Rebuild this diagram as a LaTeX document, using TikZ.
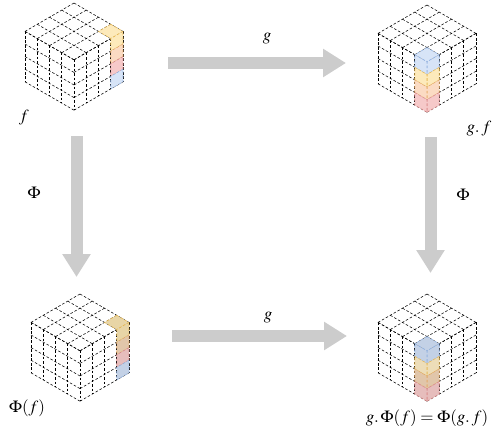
\documentclass[tikz,border=0pt]{standalone}
\usepackage{mathptmx}
\usetikzlibrary{arrows.meta}
\definecolor{cY}{HTML}{FDEABB}\definecolor{dY}{HTML}{E6B64E}
\definecolor{cP}{HTML}{FBDBC3}\definecolor{dP}{HTML}{E6A862}
\definecolor{cR}{HTML}{F6C9C9}\definecolor{dR}{HTML}{D98585}
\definecolor{cB}{HTML}{D7E4F7}\definecolor{dB}{HTML}{8FB0E0}
\definecolor{tY}{HTML}{E8D5A6}\definecolor{tP}{HTML}{E1C6AA}
\definecolor{tR}{HTML}{E6BDBC}\definecolor{tB}{HTML}{C3D1E6}
\definecolor{arrgray}{HTML}{CCCCCC}
\tikzset{
  gridline/.style={draw=black,line width=0.55pt,dash pattern=on 2.6pt off 1.9pt},
  cellstyle/.style={line width=0.55pt,dash pattern=on 2.6pt off 1.9pt},
  blockarrow/.style={draw=arrgray,line width=12pt,-{Triangle[length=23pt,width=27pt]}},
  lbl/.style={inner sep=0pt,font=\fontsize{17}{20}\selectfont}
}
\newcommand\isocube[2]{%
\begin{scope}[shift={(#1pt,-#2pt)},x={(12.25pt,-7.1pt)},y={(-12.25pt,-7.1pt)},z={(0pt,-12.6pt)}]
\foreach \m in {0,...,4}{
 \draw[gridline] (\m,0,0)--(\m,4,0); \draw[gridline] (0,\m,0)--(4,\m,0);
 \draw[gridline] (4,\m,0)--(4,\m,4); \draw[gridline] (4,0,\m)--(4,4,\m);
 \draw[gridline] (\m,4,0)--(\m,4,4); \draw[gridline] (0,4,\m)--(4,4,\m);
}
\end{scope}}
\newcommand\rightcol[6]{%
\begin{scope}[shift={(#1pt,-#2pt)},x={(12.25pt,-7.1pt)},y={(-12.25pt,-7.1pt)},z={(0pt,-12.6pt)}]
\filldraw[cellstyle,fill=#3,draw=dY] (3,0,0)--(4,0,0)--(4,1,0)--(3,1,0)--cycle;
\filldraw[cellstyle,fill=#3,draw=dY] (4,0,0)--(4,1,0)--(4,1,1)--(4,0,1)--cycle;
\filldraw[cellstyle,fill=#4,draw=dP] (4,0,1)--(4,1,1)--(4,1,2)--(4,0,2)--cycle;
\filldraw[cellstyle,fill=#5,draw=dR] (4,0,2)--(4,1,2)--(4,1,3)--(4,0,3)--cycle;
\filldraw[cellstyle,fill=#6,draw=dB] (4,0,3)--(4,1,3)--(4,1,4)--(4,0,4)--cycle;
\end{scope}}
\newcommand\frontcol[6]{%
\begin{scope}[shift={(#1pt,-#2pt)},x={(12.25pt,-7.1pt)},y={(-12.25pt,-7.1pt)},z={(0pt,-12.6pt)}]
\filldraw[cellstyle,fill=#3,draw=dB] (3,3,0)--(4,3,0)--(4,4,0)--(3,4,0)--cycle;
\foreach \k/\f/\d in {0/#3/dB,1/#4/dY,2/#5/dP,3/#6/dR}{
  \pgfmathtruncatemacro\kk{\k+1}
  \filldraw[cellstyle,fill=\f,draw=\d] (4,3,\k)--(4,4,\k)--(4,4,\kk)--(4,3,\kk)--cycle;
  \filldraw[cellstyle,fill=\f,draw=\d] (3,4,\k)--(4,4,\k)--(4,4,\kk)--(3,4,\kk)--cycle;
}
\end{scope}}
\begin{document}
\begin{tikzpicture}[x=1pt,y=-1pt]
\useasboundingbox (0,0) rectangle (493,426);
% cubes
\isocube{74}{3}\rightcol{74}{3}{cY}{cP}{cR}{cB}
\isocube{427}{5}\frontcol{427}{5}{cB}{cY}{cP}{cR}
\isocube{80}{294}\rightcol{80}{294}{tY}{tP}{tR}{tB}
\isocube{427}{294}\frontcol{427}{294}{tB}{tY!80!white}{tP}{tR}
% named anchor points
\coordinate (f) at (74,3);
\coordinate (gf) at (427,5);
\coordinate (phif) at (80,294);
\coordinate (gphif) at (427,294);
\coordinate (a1s) at (168,63); \coordinate (a1e) at (346,63);
\coordinate (a2s) at (172,336); \coordinate (a2e) at (347,336);
\coordinate (a3s) at (76.5,136); \coordinate (a3e) at (76.5,277);
\coordinate (a4s) at (430.5,137); \coordinate (a4e) at (430.5,273);
\draw[blockarrow] (a1s) -- (a1e);
\draw[blockarrow] (a2s) -- (a2e);
\draw[blockarrow] (a3s) -- (a3e);
\draw[blockarrow] (a4s) -- (a4e);
% labels
\node[lbl] (lg1) at (267,39) {$g$};
\node[lbl] (lg2) at (268,318) {$g$};
\node[lbl] (lp1) at (34,193) {$\Phi$};
\node[lbl] (lp2) at (463,195) {$\Phi$};
\node[lbl] (lf) at (24,118) {$f$};
\node[lbl] (lgf) at (479,129) {$g.\,f$};
\node[lbl] (lpf) at (27,408) {$\Phi(f)$};
\node[lbl] (lgpf) at (427,418) {$g.\,\Phi(f)=\Phi(g.\,f)$};
\end{tikzpicture}
\end{document}
